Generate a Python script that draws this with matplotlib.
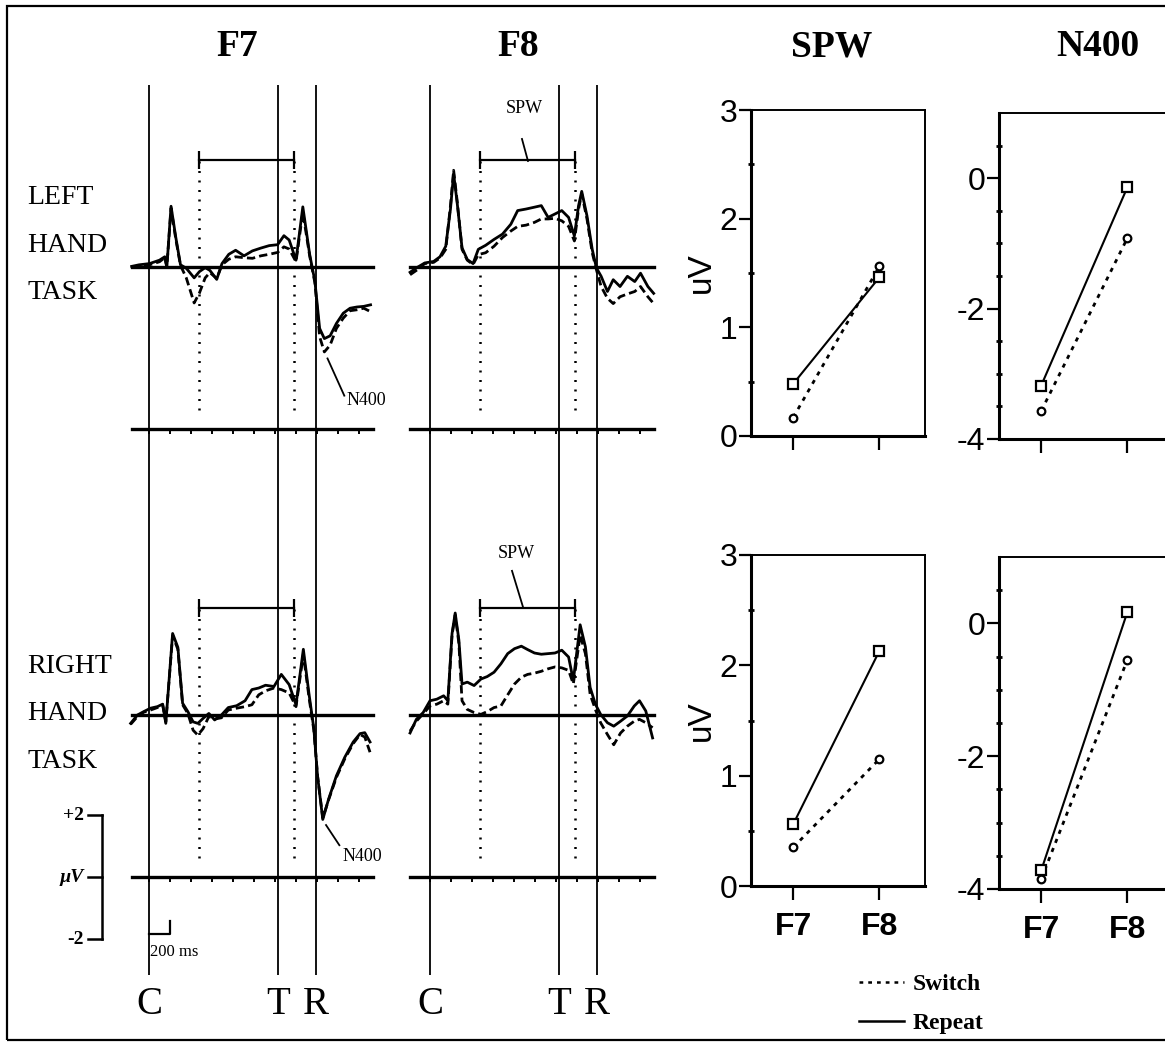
import matplotlib
matplotlib.use("Agg")
import matplotlib.pyplot as plt
from matplotlib.lines import Line2D
from matplotlib.patches import Rectangle
import numpy as np

plt.rcParams["axes.unicode_minus"] = False

# ---- ERP waveforms (time in ms from cue C, amplitude in uV) ----
LH_F7_T = [-165, -95, 5, 100, 150, 170, 210, 255, 300, 355, 430, 480, 535, 580, 645,
           695, 760, 825, 905, 985, 1065, 1145, 1225, 1285, 1335, 1400, 1465, 1530,
           1580, 1625, 1670, 1725, 1785, 1850, 1915, 1980, 2045, 2110]
LH_F7_REPEAT = [0.02, 0.07, 0.11, 0.22, 0.33, 0.0, 1.96, 0.96, 0.07, -0.04, -0.35, -0.15,
                -0.02, -0.11, -0.40, 0.11, 0.41, 0.54, 0.36, 0.52, 0.61, 0.69, 0.72, 1.01,
                0.87, 0.22, 1.94, 0.41, -0.46, -1.98, -2.31, -2.22, -1.82, -1.49, -1.33,
                -1.29, -1.27, -1.22]
LH_F7_SWITCH = [-0.02, 0.0, 0.07, 0.17, 0.30, 0.0, 1.90, 0.90, 0.05, -0.35, -1.16, -0.84,
                -0.35, -0.18, -0.37, 0.07, 0.25, 0.33, 0.30, 0.28, 0.36, 0.41, 0.47, 0.65,
                0.58, 0.17, 1.77, 0.36, -0.51, -2.25, -2.74, -2.52, -1.98, -1.65, -1.41,
                -1.38, -1.33, -1.44]

LH_F8_T = [-190, -130, -50, 35, 95, 150, 195, 225, 260, 305, 355, 410, 460, 530, 610,
           690, 770, 835, 915, 995, 1060, 1125, 1190, 1255, 1320, 1375, 1415, 1445, 1495,
           1545, 1585, 1630, 1690, 1745, 1810, 1880, 1950, 2005, 2075, 2130]
LH_F8_REPEAT = [-0.17, -0.03, 0.13, 0.18, 0.33, 0.67, 1.87, 3.01, 2.03, 0.62, 0.24, 0.11,
                0.57, 0.70, 0.89, 1.06, 1.38, 1.82, 1.87, 1.93, 1.98, 1.60, 1.71, 1.82,
                1.60, 1.00, 1.98, 2.44, 1.65, 0.57, -0.03, -0.30, -0.79, -0.41, -0.63,
                -0.30, -0.47, -0.20, -0.63, -0.85]
LH_F8_SWITCH = [-0.25, -0.11, 0.11, 0.15, 0.29, 0.57, 1.98, 3.12, 2.09, 0.57, 0.22, 0.08,
                0.40, 0.46, 0.67, 0.95, 1.16, 1.31, 1.35, 1.44, 1.55, 1.55, 1.57, 1.49,
                1.31, 0.84, 1.87, 2.36, 1.55, 0.46, -0.09, -0.63, -1.01, -1.18, -0.96,
                -0.87, -0.79, -0.63, -0.96, -1.18]

RH_F7_T = [-175, -110, -50, 15, 80, 130, 160, 225, 275, 320, 370, 420, 465, 515, 570,
           625, 690, 755, 835, 915, 980, 1045, 1110, 1190, 1260, 1335, 1400, 1470, 1525,
           1570, 1605, 1655, 1710, 1785, 1865, 1945, 2010, 2055, 2105]
RH_F7_REPEAT = [-0.27, 0.0, 0.11, 0.22, 0.27, 0.35, -0.27, 2.63, 2.18, 0.38, 0.11, -0.22,
                -0.27, -0.11, 0.05, -0.16, 0.0, 0.24, 0.30, 0.46, 0.82, 0.87, 0.96, 0.92,
                1.31, 0.98, 0.33, 2.12, 0.65, -0.44, -1.96, -3.37, -2.72, -1.96, -1.36,
                -0.87, -0.60, -0.57, -0.87]
RH_F7_SWITCH = [-0.30, -0.05, 0.09, 0.16, 0.24, 0.33, -0.22, 2.56, 2.12, 0.33, 0.05, -0.49,
                -0.65, -0.44, -0.05, -0.13, -0.09, 0.16, 0.22, 0.27, 0.33, 0.65, 0.78, 0.87,
                0.82, 0.71, 0.27, 1.96, 0.54, -0.49, -1.96, -3.32, -2.74, -2.01, -1.41,
                -0.92, -0.63, -0.71, -1.20]

RH_F8_T = [-190, -130, -65, 0, 65, 130, 170, 210, 240, 275, 305, 355, 420, 485, 545, 610,
           675, 740, 805, 870, 930, 995, 1060, 1125, 1190, 1255, 1320, 1365, 1430, 1480,
           1525, 1575, 1625, 1690, 1750, 1815, 1880, 1945, 1995, 2055, 2120]
RH_F8_REPEAT = [-0.58, -0.14, 0.08, 0.46, 0.51, 0.62, 0.46, 2.63, 3.29, 2.42, 1.00, 1.06,
                0.95, 1.16, 1.24, 1.38, 1.65, 1.98, 2.14, 2.22, 2.11, 2.00, 1.96, 1.98,
                2.00, 2.09, 1.87, 1.11, 2.91, 2.20, 0.89, 0.35, 0.02, -0.25, -0.36, -0.20,
                -0.03, 0.29, 0.46, 0.13, -0.74]
RH_F8_SWITCH = [-0.52, -0.20, 0.04, 0.29, 0.35, 0.46, 0.35, 2.58, 3.23, 2.31, 0.46, 0.18,
                0.08, 0.02, 0.11, 0.24, 0.29, 0.65, 1.00, 1.22, 1.31, 1.35, 1.41, 1.49,
                1.55, 1.52, 1.44, 1.00, 2.58, 1.98, 0.67, 0.18, -0.25, -0.63, -0.96, -0.58,
                -0.36, -0.20, -0.14, -0.25, -0.41]

# event times (ms) and SPW window
T_TIME = 1230
R_TIME = 1590
SPW_WINDOW = [480, 1380]
BASE_START = {"F7": -160, "F8": -195}
BASE_END = 2130

# ---- mean amplitudes (uV) ----
SITES = ["F7", "F8"]
LH_SPW_SWITCH = [0.17, 1.56]
LH_SPW_REPEAT = [0.48, 1.46]
RH_SPW_SWITCH = [0.35, 1.15]
RH_SPW_REPEAT = [0.56, 2.13]
LH_N400_SWITCH = [-3.57, -0.92]
LH_N400_REPEAT = [-3.18, -0.14]
RH_N400_SWITCH = [-3.85, -0.55]
RH_N400_REPEAT = [-3.72, 0.17]

W, H = 1165, 1049
fig = plt.figure(figsize=(W / 100, H / 100), dpi=100)
fig.patch.set_facecolor("white")

SERIF = ["Liberation Serif", "DejaVu Serif"]
SANS = ["Liberation Sans", "DejaVu Sans"]


def px_axes(x0, y0, x1, y1):
    return fig.add_axes([x0 / W, 1 - y1 / H, (x1 - x0) / W, (y1 - y0) / H])


PX_MS = 0.105
PX_UV = 31.0
C_PX = {"F7": 149, "F8": 430}
XLIM = (-50 / PX_MS, 240 / PX_MS)
BASE_PX = {"LH": 267, "RH": 715}
AXIS_UV = -5.23

# event lines (C, T, R) - one tall axes per column
for site in SITES:
    c = C_PX[site]
    ax = px_axes(c - 50, 85, c + 240, 975)
    ax.set_xlim(XLIM)
    ax.set_ylim(0, 1)
    ax.axis("off")
    for t, lab in zip([0, T_TIME, R_TIME], ["C", "T", "R"]):
        ax.axvline(t, color="black", lw=1.3)
        ax.text(t, -0.012, lab, ha="center", va="top", fontsize=28,
                family=SERIF, transform=ax.get_xaxis_transform())

panels = [
    ("LH", "F7", LH_F7_T, LH_F7_REPEAT, LH_F7_SWITCH),
    ("LH", "F8", LH_F8_T, LH_F8_REPEAT, LH_F8_SWITCH),
    ("RH", "F7", RH_F7_T, RH_F7_REPEAT, RH_F7_SWITCH),
    ("RH", "F8", RH_F8_T, RH_F8_REPEAT, RH_F8_SWITCH),
]
erp_axes = {}
for row, site, t, rep, sw in panels:
    c = C_PX[site]
    b = BASE_PX[row]
    ax = px_axes(c - 50, b - 190, c + 240, b + 190)
    ax.set_xlim(XLIM)
    ax.set_ylim(-190 / PX_UV, 190 / PX_UV)
    ax.axis("off")
    ax.patch.set_alpha(0)
    erp_axes[(row, site)] = ax
    # baseline and time axis
    ax.plot([BASE_START[site], BASE_END], [0, 0], color="black", lw=2.4)
    ax.plot([BASE_START[site], BASE_END], [AXIS_UV, AXIS_UV], color="black", lw=2.4)
    ticks = np.arange(-200, BASE_END, 200)
    ticks = ticks[ticks >= BASE_START[site]]
    ax.vlines(ticks, AXIS_UV - 0.15, AXIS_UV, color="black", lw=1.4)
    # SPW window
    ax.vlines(SPW_WINDOW, -4.6, 3.45, color="black", lw=1.8, linestyles=(0, (0.8, 3)))
    ax.plot(SPW_WINDOW, [3.45, 3.45], color="black", lw=1.6)
    ax.vlines(SPW_WINDOW, 3.15, 3.75, color="black", lw=1.6)
    # waveforms
    ax.plot(t, sw, color="black", lw=2.0, linestyle=(0, (3, 1.5)))
    ax.plot(t, rep, color="black", lw=2.0)

# SPW labels on F8, N400 labels on F7
for row, lab_xy, lead in [("LH", (895, 5.1), ([876, 933], [4.13, 3.42])),
                          ("RH", (820, 5.2), ([781, 886], [4.65, 3.48]))]:
    ax = erp_axes[(row, "F8")]
    ax.text(*lab_xy, "SPW", ha="center", va="center", fontsize=13, family=SERIF)
    ax.plot(*lead, color="black", lw=1.3)
for row, lab_xy, lead in [("LH", (2070, -4.3), ([1700, 1860], [-2.95, -4.15])),
                          ("RH", (2030, -4.58), ([1686, 1813], [-3.55, -4.2]))]:
    ax = erp_axes[(row, "F7")]
    ax.text(*lab_xy, "N400", ha="center", va="center", fontsize=13, family=SERIF)
    ax.plot(*lead, color="black", lw=1.3)

# calibration bars
ax = erp_axes[("RH", "F7")]
cal_x = -448
ax.plot([cal_x, cal_x], [AXIS_UV - 2, AXIS_UV + 2], color="black", lw=1.8, clip_on=False)
for v, lab, style in [(2, "+2", "normal"), (0, "\u00b5V", "italic"), (-2, "-2", "normal")]:
    ax.plot([-581, cal_x], [AXIS_UV + v, AXIS_UV + v], color="black", lw=1.8, clip_on=False)
    ax.text(-620, AXIS_UV + v, lab, ha="right", va="center", fontsize=14,
            family=SERIF, weight="bold", style=style, clip_on=False)
ax.plot([0, 200, 200], [AXIS_UV - 1.83, AXIS_UV - 1.83, AXIS_UV - 1.4],
        color="black", lw=1.6, clip_on=False)
ax.text(10, AXIS_UV - 2.15, "200 ms", ha="left", va="top", fontsize=12,
        family=SERIF, clip_on=False)

# row labels and column titles
fig.text(27 / W, 1 - 245 / H, "LEFT\nHAND\nTASK", ha="left", va="center",
         fontsize=20, family=SERIF, linespacing=2.2)
fig.text(27 / W, 1 - 714 / H, "RIGHT\nHAND\nTASK", ha="left", va="center",
         fontsize=20, family=SERIF, linespacing=2.2)
for x, lab in [(237, "F7"), (518, "F8"), (832, "SPW"), (1098, "N400")]:
    fig.text(x / W, 1 - 47 / H, lab, ha="center", va="center", fontsize=27,
             family=SERIF, weight="bold")

# mean amplitude plots
summary = [
    ((751, 110, 925, 436), LH_SPW_REPEAT, LH_SPW_SWITCH, (0, 3), [0, 1, 2, 3], False, True),
    ((999, 113, 1173, 439), LH_N400_REPEAT, LH_N400_SWITCH, (-4, 1), [-4, -2, 0], False, False),
    ((751, 555, 925, 886), RH_SPW_REPEAT, RH_SPW_SWITCH, (0, 3), [0, 1, 2, 3], True, True),
    ((999, 557, 1173, 889), RH_N400_REPEAT, RH_N400_SWITCH, (-4, 1), [-4, -2, 0], True, False),
]
for box, rep, sw, ylim, yticks, xlab, uv in summary:
    ax = px_axes(*box)
    x = np.arange(len(SITES))
    ax.plot(x, sw, color="black", lw=2.0, linestyle=(0, (1.5, 2)),
            marker="o", ms=5.5, mfc="white", mec="black", mew=1.6)
    ax.plot(x, rep, color="black", lw=1.5, marker="s", ms=6.5,
            mfc="white", mec="black", mew=1.6)
    ax.set_xlim(-0.49, 1.53)
    ax.set_ylim(*ylim)
    ax.set_yticks(yticks)
    ax.set_yticks(np.arange(ylim[0] + 0.5, ylim[1], 0.5), minor=True)
    ax.set_xticks(x)
    ax.set_xticklabels(SITES if xlab else ["", ""])
    for lbl in ax.get_xticklabels():
        lbl.set_family(SANS)
        lbl.set_weight("bold")
        lbl.set_fontsize(23)
    for lbl in ax.get_yticklabels():
        lbl.set_family(SANS)
        lbl.set_fontsize(23)
    ax.tick_params(axis="y", which="major", direction="out", length=9, width=1.6, pad=1)
    ax.tick_params(axis="y", which="minor", direction="inout", length=4, width=2)
    ax.tick_params(axis="x", direction="out", length=10, width=1.6, pad=9)
    for s in ["left", "bottom"]:
        ax.spines[s].set_linewidth(2.2)
    for s in ["top", "right"]:
        ax.spines[s].set_linewidth(1.4)
    if uv:
        ax.set_ylabel("uV", fontsize=24, family=SANS, labelpad=2)

# legend
handles = [Line2D([], [], color="black", lw=1.8, linestyle=(0, (1.5, 2))),
           Line2D([], [], color="black", lw=1.8)]
fig.legend(handles, ["Switch", "Repeat"], loc="upper left",
           bbox_to_anchor=(838 / W, 1 - 952 / H), frameon=False, handlelength=1.9,
           handletextpad=0.35, labelspacing=0.75,
           prop={"family": SERIF, "weight": "bold", "size": 17})

# outer frame
fig.patches.append(Rectangle((7 / W, 1 - 1040 / H), 1.2, (1040 - 6) / H,
                             transform=fig.transFigure, fill=False, lw=1.6,
                             edgecolor="black"))

fig.savefig("out.png", dpi=100)
